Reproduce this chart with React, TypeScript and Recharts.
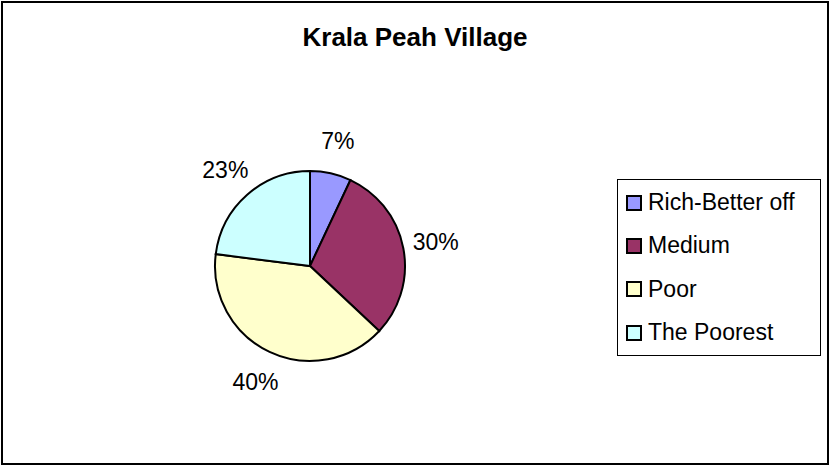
import { PieChart, Pie, Cell, Legend } from "recharts";

const categories = ["Rich-Better off", "Medium", "Poor", "The Poorest"];
const shares = [7, 30, 40, 23];
const colors = ["#9999FF", "#993366", "#FFFFCC", "#CCFFFF"];

const data = categories.map((name, i) => ({ name, value: shares[i] }));

const FONT = "Arial, 'Liberation Sans', sans-serif";
const RAD = Math.PI / 180;

const renderLabel = (props: any) => {
  const { cx, cy, midAngle, outerRadius, value } = props;
  const r = outerRadius + 33;
  const x = cx + r * Math.cos(-midAngle * RAD);
  const y = cy + r * Math.sin(-midAngle * RAD);
  return (
    <text
      x={x}
      y={y}
      textAnchor="middle"
      dominantBaseline="central"
      fill="#000"
      fontSize={23}
      fontFamily={FONT}
    >
      {value}%
    </text>
  );
};

const LegendBox = () => (
  <div
    style={{
      border: "1px solid #000",
      background: "#fff",
      width: 204,
      height: 177,
      boxSizing: "border-box",
      padding: "1px 0 0 8px",
      fontFamily: FONT,
      fontSize: 23,
    }}
  >
    {categories.map((name, i) => (
      <div
        key={name}
        style={{ display: "flex", alignItems: "center", height: 43.3 }}
      >
        <span
          style={{
            display: "inline-block",
            width: 12,
            height: 12,
            background: colors[i],
            border: "2px solid #000",
            marginRight: 6,
          }}
        />
        <span>{name}</span>
      </div>
    ))}
  </div>
);

export default function App() {
  return (
    <div
      style={{
        position: "fixed",
        left: 0,
        top: 0,
        width: 830,
        height: 466,
        background: "#fff",
      }}
    >
      <PieChart
        width={830}
        height={466}
        margin={{ top: 0, right: 0, bottom: 0, left: 0 }}
      >
        <Pie
          data={data}
          dataKey="value"
          nameKey="name"
          cx={310}
          cy={266}
          outerRadius={95}
          startAngle={90}
          endAngle={-270}
          stroke="#000"
          strokeWidth={2}
          label={renderLabel}
          labelLine={false}
          isAnimationActive={false}
        >
          {data.map((d, i) => (
            <Cell key={d.name} fill={colors[i]} />
          ))}
        </Pie>
        <Legend
          content={() => <LegendBox />}
          wrapperStyle={{ position: "absolute", left: 617, top: 179, width: 204 }}
        />
      </PieChart>
      <div
        style={{
          position: "absolute",
          left: 0,
          top: 22,
          width: 830,
          textAlign: "center",
          fontFamily: FONT,
          fontWeight: "bold",
          fontSize: 26,
        }}
      >
        Krala Peah Village
      </div>
      <div
        style={{
          position: "absolute",
          left: 1,
          top: 1,
          width: 828,
          height: 464,
          border: "2px solid #000",
          boxSizing: "border-box",
          pointerEvents: "none",
        }}
      />
    </div>
  );
}
